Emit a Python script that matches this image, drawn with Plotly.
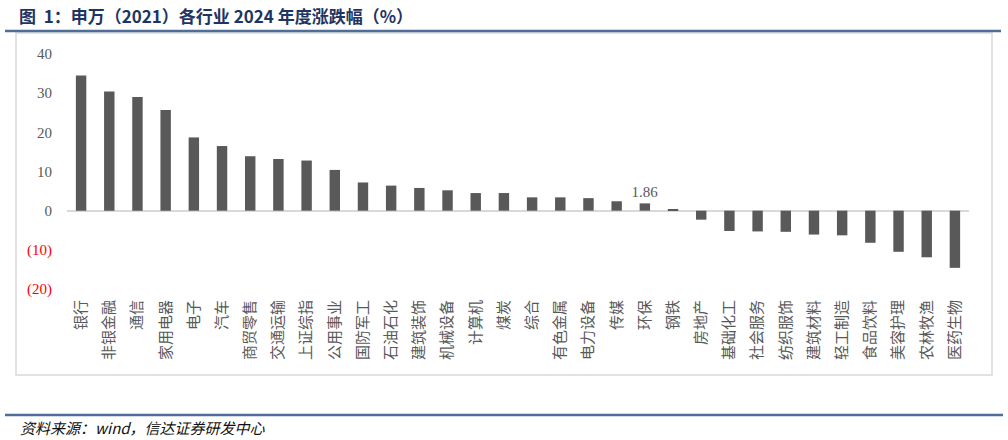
import plotly.graph_objects as go

industries = ['银行', '非银金融', '通信', '家用电器', '电子', '汽车', '商贸零售', '交通运输',
              '上证综指', '公用事业', '国防军工', '石油石化', '建筑装饰', '机械设备', '计算机', '煤炭',
              '综合', '有色金属', '电力设备', '传媒', '环保', '钢铁', '房地产', '基础化工',
              '社会服务', '纺织服饰', '建筑材料', '轻工制造', '食品饮料', '美容护理', '农林牧渔', '医药生物']
change_2024 = [34.5, 30.4, 29.0, 25.7, 18.7, 16.5, 13.9, 13.2,
               12.8, 10.4, 7.2, 6.4, 5.8, 5.2, 4.5, 4.5,
               3.4, 3.4, 3.2, 2.4, 1.86, 0.2, -2.3, -5.2,
               -5.3, -5.4, -6.1, -6.3, -8.2, -10.5, -11.9, -14.6]
y_ticks = [40, 30, 20, 10, 0, -10, -20]
labelled = '环保'

W, H = 1008, 440
L, R, T, B = 67, 969, 54, 289


def px(x):
    return (x - L) / (R - L)


def py(y):
    return (B - y) / (B - T)


def tick_text(v):
    if v < 0:
        return '<span style="color:#ff0000">(%d)</span>' % abs(v)
    return str(v)


fig = go.Figure()
fig.add_trace(go.Bar(
    x=industries,
    y=change_2024,
    marker=dict(color='#595959', line=dict(width=0)),
    width=0.37,
    text=['%.2f' % v if c == labelled else '' for c, v in zip(industries, change_2024)],
    textposition='outside',
    constraintext='none',
    textfont=dict(family='Liberation Serif', size=15, color='#595959'),
    cliponaxis=False,
    showlegend=False,
))

fig.update_layout(
    width=W, height=H,
    margin=dict(l=L, r=W - R, t=T, b=H - B),
    paper_bgcolor='white',
    plot_bgcolor='white',
    xaxis=dict(
        tickangle=-90,
        tickfont=dict(family='Noto Sans CJK SC', size=15, color='#595959'),
        showgrid=False, showline=False, ticks='',
        ticklabelstandoff=7,
    ),
    yaxis=dict(
        range=[-20, 40],
        tickvals=y_ticks,
        ticktext=[tick_text(v) for v in y_ticks],
        tickfont=dict(family='Liberation Serif', size=15, color='#595959'),
        showgrid=False, showline=False, ticks='',
        zeroline=True, zerolinecolor='#d9d9d9', zerolinewidth=2,
        ticklabelstandoff=14,
    ),
    shapes=[
        # title rule
        dict(type='line', xref='paper', yref='paper', x0=px(5), x1=px(1001), y0=py(31), y1=py(31),
             line=dict(color='#4e6d98', width=2.5)),
        # chart frame
        dict(type='rect', xref='paper', yref='paper', x0=px(16), x1=px(992), y0=py(33), y1=py(375),
             line=dict(color='#d9d9d9', width=1.5), layer='below'),
        # footer rule
        dict(type='line', xref='paper', yref='paper', x0=px(5), x1=px(1003), y0=py(415), y1=py(415),
             line=dict(color='#4e6d98', width=2.5)),
    ],
    annotations=[
        dict(text='<b>图  1：申万（2021）各行业 2024 年度涨跌幅（%）</b>', xref='paper', yref='paper',
             x=px(17), y=py(15), xanchor='left', yanchor='middle', showarrow=False,
             font=dict(family='Noto Sans CJK SC', size=17, color='#1f3462')),
        dict(text='<i>资料来源：wind，信达证券研发中心</i>', xref='paper', yref='paper',
             x=px(18), y=py(427), xanchor='left', yanchor='middle', showarrow=False,
             font=dict(family='Noto Sans CJK SC', size=15, color='#111111')),
    ],
)

# drop the default 8px page margin so the figure fills the window
fig.write_html('out.html', config={'displayModeBar': False},
               post_script="document.body.style.margin='0';")
